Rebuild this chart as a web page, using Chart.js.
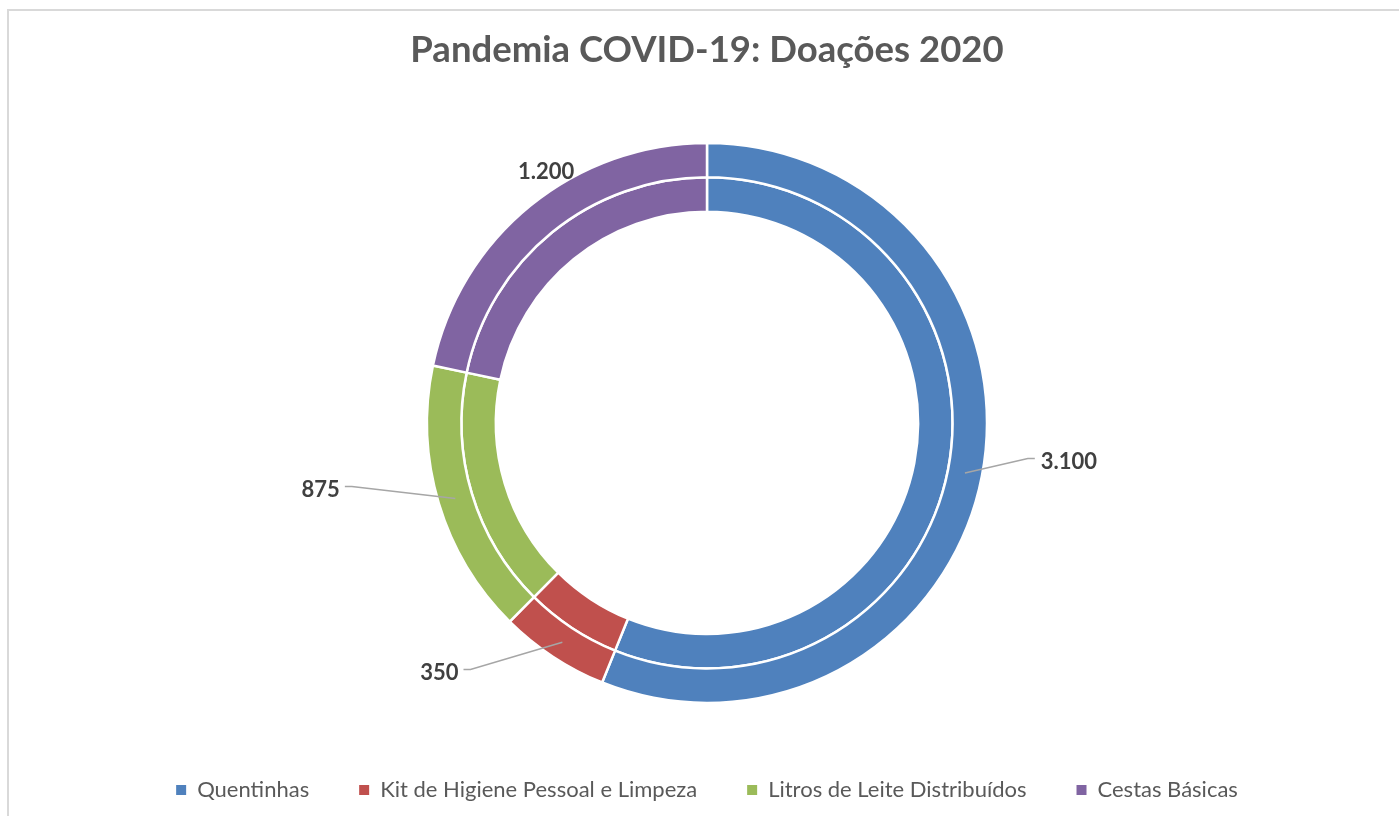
<!DOCTYPE html>
<html>
<head>
<meta charset="utf-8">
<title>Pandemia COVID-19: Doações 2020</title>
<script src="https://cdn.jsdelivr.net/npm/chart.js@4.4.0/dist/chart.umd.min.js"></script>
<style>
  html, body { margin: 0; padding: 0; background: #fff; }
  #wrap { position: relative; width: 1399px; height: 816px; overflow: hidden; }
  #frame { position: absolute; left: 7px; top: 9px; width: 1420px; height: 840px;
           border-left: 2px solid #d9d9d9; border-top: 2px solid #d9d9d9; }
  canvas { position: absolute; left: 0; top: 0; }
</style>
</head>
<body>
<div id="wrap">
  <div id="frame"></div>
  <canvas id="chart" width="1399" height="816"></canvas>
</div>
<script>
const categories = ['Quentinhas', 'Kit de Higiene Pessoal e Limpeza', 'Litros de Leite Distribuídos', 'Cestas Básicas'];
const donations = [3100, 350, 875, 1200];
const sliceColors = ['#4f81bd', '#c0504d', '#9bbb59', '#8064a2'];

// where each value label sits relative to its slice (angle shift in degrees, distance from centre)
const labelPlacement = [
  { shift: -4.9, dist: 364, line: true },
  { shift: 13.6, dist: 366, line: true },
  { shift: 6.9, dist: 392, line: true },
  { shift: 6.4, dist: 298, line: false }
];

const fmt = v => String(v).replace(/\B(?=(\d{3})+(?!\d))/g, '.');

const outerLabels = {
  id: 'outerLabels',
  afterDatasetsDraw(chart) {
    const meta = chart.getDatasetMeta(0);
    const ctx = chart.ctx;
    ctx.save();
    ctx.font = 'bold 22px Lato';
    ctx.textBaseline = 'middle';
    ctx.textAlign = 'center';
    meta.data.forEach((arc, i) => {
      const { x, y, startAngle, endAngle, innerRadius, outerRadius } =
        arc.getProps(['x', 'y', 'startAngle', 'endAngle', 'innerRadius', 'outerRadius'], true);
      const mid = (startAngle + endAngle) / 2;
      const rMid = (innerRadius + outerRadius) / 2;
      const ax = x + Math.cos(mid) * rMid;
      const ay = y + Math.sin(mid) * rMid;
      const p = labelPlacement[i];
      const la = mid + p.shift * Math.PI / 180;
      const lx = x + Math.cos(la) * p.dist;
      const ly = y + Math.sin(la) * p.dist;
      const text = fmt(donations[i]);
      const w = ctx.measureText(text).width;

      if (p.line) {
        const right = lx > ax;
        const end = right ? lx - w / 2 - 6 : lx + w / 2 + 5;
        const elbow = right ? end - 7 : end + 7;
        const lyLine = ly - 3;
        ctx.strokeStyle = '#a6a6a6';
        ctx.lineWidth = 1.5;
        ctx.beginPath();
        ctx.moveTo(ax, ay);
        ctx.lineTo(elbow, lyLine);
        ctx.lineTo(end, lyLine);
        ctx.stroke();
      }
      ctx.fillStyle = '#404040';
      ctx.fillText(text, lx, ly);
    });
    ctx.restore();
  }
};

const ctx = document.getElementById('chart').getContext('2d');
new Chart(ctx, {
  type: 'doughnut',
  data: {
    labels: categories,
    datasets: [{
      data: donations,
      backgroundColor: sliceColors,
      borderColor: '#ffffff',
      borderWidth: 2.5
    }, {
      data: donations,
      backgroundColor: sliceColors,
      borderColor: '#ffffff',
      borderWidth: 2.5
    }]
  },
  options: {
    responsive: false,
    animation: false,
    radius: 280,
    cutout: '75.4%',
    layout: {
      padding: { left: 15, bottom: 5 }
    },
    plugins: {
      title: {
        display: true,
        text: 'Pandemia COVID-19: Doações 2020',
        color: '#595959',
        font: { family: 'Lato', size: 36.5, weight: 'bold' },
        padding: { top: 28, bottom: 45 }
      },
      legend: {
        position: 'bottom',
        labels: {
          color: '#595959',
          font: { family: 'Lato', size: 22 },
          boxWidth: 10,
          boxHeight: 10,
          padding: 50,
          generateLabels: function(chart) {
            const items = Chart.overrides.doughnut.plugins.legend.labels.generateLabels(chart);
            return items.map(item => Object.assign(item, { lineWidth: 0, strokeStyle: item.fillStyle }));
          }
        }
      },
      tooltip: { enabled: false }
    }
  },
  plugins: [outerLabels]
});
</script>
</body>
</html>
